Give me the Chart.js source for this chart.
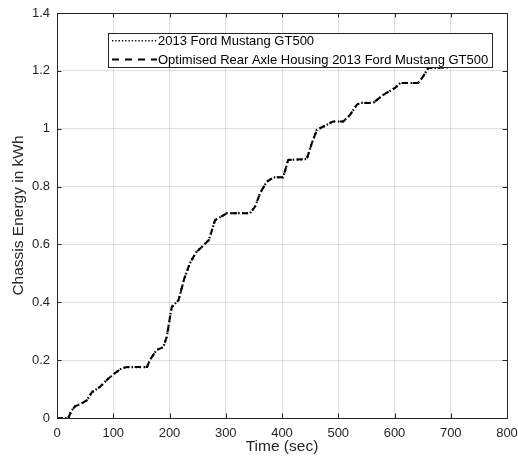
<!DOCTYPE html>
<html>
<head>
<meta charset="utf-8">
<title>Chassis Energy</title>
<script src="https://cdn.jsdelivr.net/npm/chart.js@4"></script>
<style>
    html, body { margin: 0; padding: 0; background: #ffffff; }
    #wrap { width: 518px; height: 465px; }
</style>
</head>
<body>
<div id="wrap"><canvas id="energyChart" width="518" height="465"></canvas></div>
<script>
// time samples (sec) and cumulative chassis energy (kWh) for both cars
const timeSec = [0, 20, 26, 32, 44, 53, 62, 76, 91, 103, 115, 125, 160, 165, 177, 189, 195, 204, 216, 226,
    236, 247, 270, 281, 302, 343, 352, 361, 373, 385, 402, 411, 444, 453, 462, 479, 491, 509, 521, 533,
    539, 562, 580, 601, 610, 642, 651, 660, 696];
const energyStock = [0, 0, 0.026, 0.04, 0.051, 0.061, 0.089, 0.107, 0.136, 0.155, 0.172, 0.176, 0.176, 0.2, 0.235, 0.245, 0.28, 0.384, 0.407, 0.48,
    0.534, 0.572, 0.615, 0.684, 0.708, 0.708, 0.73, 0.777, 0.817, 0.832, 0.832, 0.892, 0.895, 0.95, 0.996, 1.013, 1.025, 1.025, 1.048, 1.083,
    1.089, 1.089, 1.117, 1.141, 1.158, 1.158, 1.181, 1.21, 1.212];
const energyOptimised = [0, 0, 0.026, 0.04, 0.051, 0.061, 0.089, 0.107, 0.136, 0.155, 0.172, 0.176, 0.176, 0.2, 0.235, 0.245, 0.28, 0.384, 0.407, 0.48,
    0.534, 0.572, 0.615, 0.684, 0.708, 0.708, 0.73, 0.777, 0.817, 0.832, 0.832, 0.892, 0.895, 0.95, 0.996, 1.013, 1.025, 1.025, 1.048, 1.083,
    1.089, 1.089, 1.117, 1.141, 1.158, 1.158, 1.181, 1.21, 1.212];
const seriesNames = ['2013 Ford Mustang GT500', 'Optimised Rear Axle Housing 2013 Ford Mustang GT500'];
const xTickLabels = ['0', '100', '200', '300', '400', '500', '600', '700', '800'];
const yTickLabels = ['0', '0.2', '0.4', '0.6', '0.8', '1', '1.2', '1.4'];

const axisColor = '#262626';
const gridColor = 'rgba(38,38,38,0.15)';
const fontFamily = '"Liberation Sans", Arial, sans-serif';
const dotPattern = [1.5, 2.5];
const dashPattern = [6, 5];

function toPoints(xs, ys) {
    return xs.map((x, i) => ({ x: x, y: ys[i] }));
}

// box outline, inward tick marks on all four sides, and the legend box
const matlabFrame = {
    id: 'matlabFrame',
    afterDraw(chart) {
        const ctx = chart.ctx;
        const area = chart.chartArea;
        const xs = chart.scales.x;
        const ys = chart.scales.y;
        const tickLen = 4.5;

        ctx.save();
        ctx.strokeStyle = axisColor;
        ctx.lineWidth = 1;
        ctx.setLineDash([]);
        ctx.strokeRect(Math.round(area.left) + 0.5, Math.round(area.top) + 0.5,
            Math.round(area.right - area.left), Math.round(area.bottom - area.top));

        ctx.beginPath();
        xs.ticks.forEach(t => {
            const px = Math.round(xs.getPixelForValue(t.value)) + 0.5;
            ctx.moveTo(px, area.bottom);
            ctx.lineTo(px, area.bottom - tickLen);
            ctx.moveTo(px, area.top);
            ctx.lineTo(px, area.top + tickLen);
        });
        ys.ticks.forEach(t => {
            const py = Math.round(ys.getPixelForValue(t.value)) + 0.5;
            ctx.moveTo(area.left, py);
            ctx.lineTo(area.left + tickLen, py);
            ctx.moveTo(area.right, py);
            ctx.lineTo(area.right - tickLen, py);
        });
        ctx.stroke();

        // legend
        const box = { x: 108.5, y: 33.5, w: 384, h: 34 };
        ctx.fillStyle = '#ffffff';
        ctx.fillRect(box.x, box.y, box.w, box.h);
        ctx.strokeStyle = axisColor;
        ctx.strokeRect(box.x, box.y, box.w, box.h);

        const rows = [40.7, 59.5];
        ctx.font = '13px ' + fontFamily;
        ctx.textBaseline = 'middle';
        ctx.textAlign = 'left';
        seriesNames.forEach((name, i) => {
            ctx.beginPath();
            ctx.strokeStyle = '#000000';
            ctx.lineWidth = i === 0 ? 1.6 : 2;
            ctx.setLineDash(i === 0 ? [1.3, 2] : [7, 6]);
            ctx.moveTo(112, rows[i]);
            ctx.lineTo(157, rows[i]);
            ctx.stroke();
            ctx.setLineDash([]);
            ctx.fillStyle = '#000000';
            ctx.fillText(name, 158, rows[i] + 0.5);
        });
        ctx.restore();
    }
};

const ctx = document.getElementById('energyChart').getContext('2d');
new Chart(ctx, {
    type: 'line',
    data: {
        datasets: [{
            label: seriesNames[0],
            data: toPoints(timeSec, energyStock),
            borderColor: '#000000',
            borderWidth: 2.2,
            borderDash: dotPattern,
            pointRadius: 0,
            tension: 0,
            fill: false
        }, {
            label: seriesNames[1],
            data: toPoints(timeSec, energyOptimised),
            borderColor: '#000000',
            borderWidth: 2,
            borderDash: dashPattern,
            pointRadius: 0,
            tension: 0,
            fill: false
        }]
    },
    options: {
        responsive: false,
        animation: false,
        layout: { padding: { top: 13, right: 11, bottom: 0, left: 0 } },
        plugins: {
            legend: { display: false },
            tooltip: { enabled: false }
        },
        scales: {
            x: {
                type: 'linear',
                min: 0,
                max: 800,
                afterFit(scale) {
                    scale.height = 47;
                    scale.paddingLeft = 0;
                    scale.paddingRight = 0;
                },
                border: { display: false },
                grid: { color: gridColor, lineWidth: 1, drawTicks: false },
                ticks: {
                    stepSize: 100,
                    padding: 8,
                    color: axisColor,
                    font: { family: fontFamily, size: 13 },
                    maxRotation: 0,
                    callback: (value, index) => xTickLabels[index]
                },
                title: {
                    display: true,
                    text: 'Time (sec)',
                    color: axisColor,
                    font: { family: fontFamily, size: 15.5 },
                    padding: { top: 0, bottom: 9 }
                }
            },
            y: {
                type: 'linear',
                min: 0,
                max: 1.4,
                afterFit(scale) {
                    scale.width = 57;
                    scale.paddingTop = 0;
                    scale.paddingBottom = 0;
                },
                border: { display: false },
                grid: { color: gridColor, lineWidth: 1, drawTicks: false },
                ticks: {
                    stepSize: 0.2,
                    padding: 7,
                    color: axisColor,
                    font: { family: fontFamily, size: 13 },
                    callback: (value, index) => yTickLabels[index]
                },
                title: {
                    display: true,
                    text: 'Chassis Energy in kWh',
                    color: axisColor,
                    font: { family: fontFamily, size: 15.5 },
                    padding: { top: 9, bottom: 0 }
                }
            }
        }
    },
    plugins: [matlabFrame]
});
</script>
</body>
</html>
